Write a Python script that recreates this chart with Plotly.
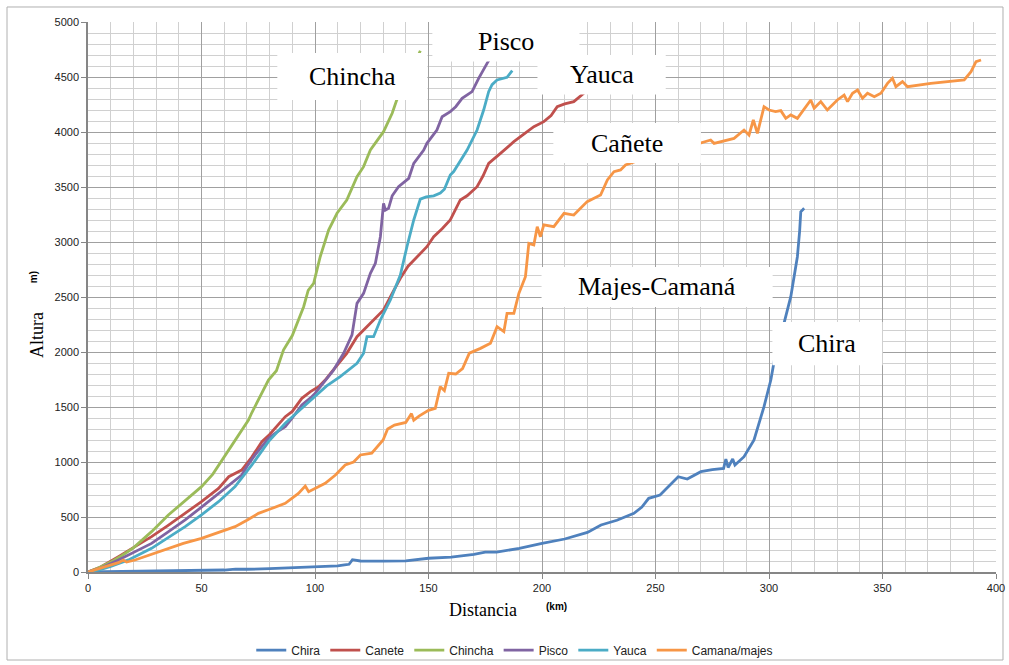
import plotly.graph_objects as go

# ---------------- data (distance km, altitude m) ----------------
chira = [(0,0),(10,2),(20,4),(30,6),(40,9),(50,12),(60,18),(65,27),(70,25),(80,30),(90,38),(100,45),
         (110,55),(113,64),(115,70),(116.5,112),(118,105),(120,100),(130,98),(140,102),(150,125),(160,135),
         (170,160),(175,180),(180,180),(190,215),(200,260),(210,300),(220,360),(226,427),(233,470),
         (240.5,533),(244,590),(247,670),(252,700),(256,780),(260,866),(264,845),(270,912),(275,930),
         (280,942),(281,1027),(282,950),(284,1027),(285,973),(289,1048),(293.4,1200),(297.8,1503),
         (300.8,1745),(303,2000),(306.6,2260),(309.6,2503),(311,2700),(312.5,2866),(313.5,3100),
         (314,3275),(315.5,3306)]

canete = [(0,0),(5,40),(13.4,140),(20,225),(28,321),(35,420),(42.8,533),(50,640),(57.5,760),(62,866),
          (67.7,927),(72,1040),(76.6,1185),(80,1250),(86.9,1412),(90,1460),(94.2,1579),(98,1640),
          (101.6,1685),(104.5,1745),(108,1836),(114,1988),(118.5,2139),(124.4,2260),(130.2,2382),
          (134,2533),(137.6,2670),(141,2780),(145,2866),(149.3,2957),(152.3,3048),(156,3120),
          (159.6,3200),(164,3382),(167,3420),(171.4,3503),(174,3600),(176.5,3715),(181.7,3806),
          (187.6,3912),(192,3980),(196.4,4048),(200.8,4094),(204,4150),(206.7,4230),(210,4255),
          (214,4276),(218.4,4352),(222,4450)]

chincha = [(0,0),(5,40),(10,90),(15,150),(20,220),(28,367),(35.4,518),(40,600),(45,690),(50,776),
           (55,890),(62,1109),(66,1230),(70.7,1382),(72.2,1450),(76.6,1624),(79.5,1745),(83,1830),
           (86.1,2018),(90,2150),(95,2412),(97,2560),(99.4,2624),(102.3,2866),(106,3109),(109.7,3261),
           (112,3320),(114,3382),(118.5,3594),(121.4,3685),(124.4,3836),(126.6,3897),(130.2,4003),
           (134,4170),(136,4291),(140,4450),(146.4,4739)]

pisco = [(0,0),(5,30),(13.4,110),(20,175),(28,260),(35,360),(42.8,473),(50,590),(57.5,715),(62,790),
         (67.7,882),(70,960),(73.6,1064),(79.5,1215),(83,1270),(86.9,1321),(90,1400),(94.2,1518),
         (97.9,1580),(100,1624),(104.5,1745),(108,1830),(112.6,1988),(116.3,2155),(118.5,2442),
         (121.4,2533),(124.4,2715),(126.6,2806),(128.8,3048),(130.2,3352),(131,3290),(132.4,3306),
         (134,3420),(136.8,3503),(139,3540),(141.3,3579),(143.5,3715),(147.9,3836),(149.3,3897),
         (153.7,4018),(156,4139),(159.6,4185),(162,4230),(164.8,4306),(169.2,4367),(172.1,4488),
         (175.8,4624),(178,4700)]

yauca = [(0,0),(5,20),(10,50),(17.8,110),(28,215),(35,310),(42.8,412),(50,520),(57.5,639),(64.8,776),
         (72.2,973),(79.5,1185),(86.9,1352),(94.2,1488),(101.6,1624),(105,1690),(111.1,1776),
         (118.5,1897),(121.4,1988),(122.9,2139),(125.8,2139),(128.8,2291),(133.2,2473),(137.6,2700),
         (140.5,2957),(143.5,3200),(146.4,3390),(149,3410),(152.3,3420),(155.2,3445),(157,3480),
         (159.6,3609),(161.1,3640),(167,3836),(171.4,4018),(174.3,4200),(176.5,4367),(178,4430),
         (180.2,4473),(184.6,4497),(186.9,4557)]

camana = [(0,0),(5,30),(10,60),(13.4,85),(15.6,109),(17,90),(20.7,109),(28,160),(35.4,215),(42,260),
          (50,306),(57,355),(64.8,412),(70,470),(75.1,533),(80,570),(86.9,624),(92.7,715),(95.7,782),
          (97.2,730),(100,760),(104.5,806),(109,882),(113.3,973),(117,1000),(120,1064),(125,1080),
          (130,1200),(132,1300),(135,1336),(140,1360),(142.5,1440),(143.5,1380),(146,1420),(150,1470),
          (153,1488),(155.2,1685),(157,1650),(158.9,1806),(162,1800),(165,1850),(168,1990),
          (172.9,2033),(177.3,2079),(180.2,2230),(183.2,2185),(184.6,2352),(187.6,2352),(189.8,2533),
          (192.7,2685),(194.2,2988),(196.4,2973),(197.9,3139),(199.3,3048),(200.8,3155),(205.2,3139),
          (209.7,3261),(214,3245),(219.9,3367),(225.8,3427),(228.8,3564),(231.7,3639),(234.6,3655),
          (236.8,3700),(245,3760),(255,3820),(265,3870),(270,3897),(274.3,3927),(275.8,3897),
          (284.6,3942),(289,4018),(291.2,3973),(293.1,4109),(294.9,3988),(297.8,4230),(300,4200),
          (302.9,4185),(305.2,4194),(307.4,4124),(309.6,4155),(312.5,4124),(318.4,4291),(319.9,4215),
          (322.8,4276),(325.7,4200),(330.1,4291),(333.1,4336),(334.6,4276),(336.8,4352),(339,4382),
          (341.2,4306),(343.4,4352),(346.4,4321),(349.3,4352),(352.2,4442),(354.4,4488),(355.9,4412),
          (358.8,4458),(361,4412),(371.3,4442),(386,4473),(389,4549),(391.2,4639),(393.4,4655)]

series_names = ["Chira", "Canete", "Chincha", "Pisco", "Yauca", "Camana/majes"]
series_data = [chira, canete, chincha, pisco, yauca, camana]
series_colors = ["#4F81BD", "#C0504D", "#9BBB59", "#8064A2", "#4BACC6", "#F79646"]

# in-chart labels: text, box (x0, x1, y0, y1) in data units
label_texts = ["Chincha", "Pisco", "Yauca", "Cañete", "Majes-Camaná", "Chira"]
label_boxes = [(83.4, 149.5, 4291, 4718),
               (151.7, 216.5, 4640, 5000),
               (198.0, 254.5, 4340, 4700),
               (205.0, 270.0, 3718, 4082),
               (199.8, 301.6, 2409, 2773),
               (301.5, 350.0, 1880, 2273)]

fig = go.Figure()
for name, data, col in zip(series_names, series_data, series_colors):
    xs = [p[0] for p in data]
    ys = [p[1] for p in data]
    fig.add_trace(go.Scatter(x=xs, y=ys, mode="lines", name=name,
                             line=dict(color=col, width=2.8)))

shapes = []
annotations = []
for txt, (x0, x1, y0, y1) in zip(label_texts, label_boxes):
    shapes.append(dict(type="rect", xref="x", yref="y", x0=x0, x1=x1, y0=y0, y1=y1,
                       fillcolor="white", line=dict(width=0), layer="above"))
    annotations.append(dict(x=(x0 + x1) / 2, y=(y0 + y1) / 2, xref="x", yref="y",
                            xanchor="center", yanchor="middle",
                            text=txt, showarrow=False,
                            font=dict(family="Liberation Serif", size=26, color="black")))

# outer chart border
shapes.append(dict(type="rect", xref="paper", yref="paper", x0=-0.0892, x1=1.0077,
                   y0=-0.16, y1=1.0273, line=dict(color="#b0b0b0", width=1),
                   fillcolor="rgba(0,0,0,0)", layer="below"))

annotations += [
    dict(x=-0.056, y=0.431, xref="paper", yref="paper", text="Altura", textangle=-90,
         xanchor="center", yanchor="middle",
         showarrow=False, font=dict(family="Liberation Serif", size=18, color="black")),
    dict(x=-0.0606, y=0.536, xref="paper", yref="paper", text="<b>m)</b>", textangle=-90,
         xanchor="center", yanchor="middle",
         showarrow=False, font=dict(family="Liberation Sans", size=10, color="black")),
    dict(x=0.435, y=-0.069, xref="paper", yref="paper", text="Distancia",
         xanchor="center", yanchor="middle",
         showarrow=False, font=dict(family="Liberation Serif", size=18, color="black")),
    dict(x=0.5165, y=-0.0636, xref="paper", yref="paper", text="<b>(km)</b>",
         xanchor="center", yanchor="middle",
         showarrow=False, font=dict(family="Liberation Sans", size=10, color="black")),
]

axis_common = dict(showline=True, linecolor="#868686", linewidth=1.5,
                   ticks="outside", ticklen=5, tickcolor="#868686",
                   showgrid=True, gridcolor="#a0a0a0", gridwidth=1.2,
                   zeroline=False, automargin=False,
                   tickfont=dict(family="Liberation Sans", size=11, color="#222222"))

fig.update_layout(
    width=1009, height=665,
    margin=dict(l=88, r=13, t=22, b=93, autoexpand=False),
    paper_bgcolor="white", plot_bgcolor="white",
    showlegend=True,
    legend=dict(orientation="h", x=0.47, y=-0.142, xanchor="center", yanchor="middle",
                font=dict(family="Liberation Sans", size=12, color="#222222"),
                itemwidth=30, bgcolor="rgba(0,0,0,0)"),
    xaxis=dict(range=[0, 400], dtick=50, tick0=0,
               minor=dict(dtick=10, showgrid=True, gridcolor="#d0d0d0", gridwidth=1.2, ticks=""),
               **axis_common),
    yaxis=dict(range=[0, 5000], dtick=500, tick0=0,
               minor=dict(dtick=100, showgrid=True, gridcolor="#d0d0d0", gridwidth=1.2, ticks=""),
               **axis_common),
    shapes=shapes,
    annotations=annotations,
)

# remove the default page margin so the figure sits at the window's top-left corner
fig.write_html("out.html",
               config={"displayModeBar": False},
               post_script="document.body.style.margin='0px';document.body.style.overflow='hidden';")
